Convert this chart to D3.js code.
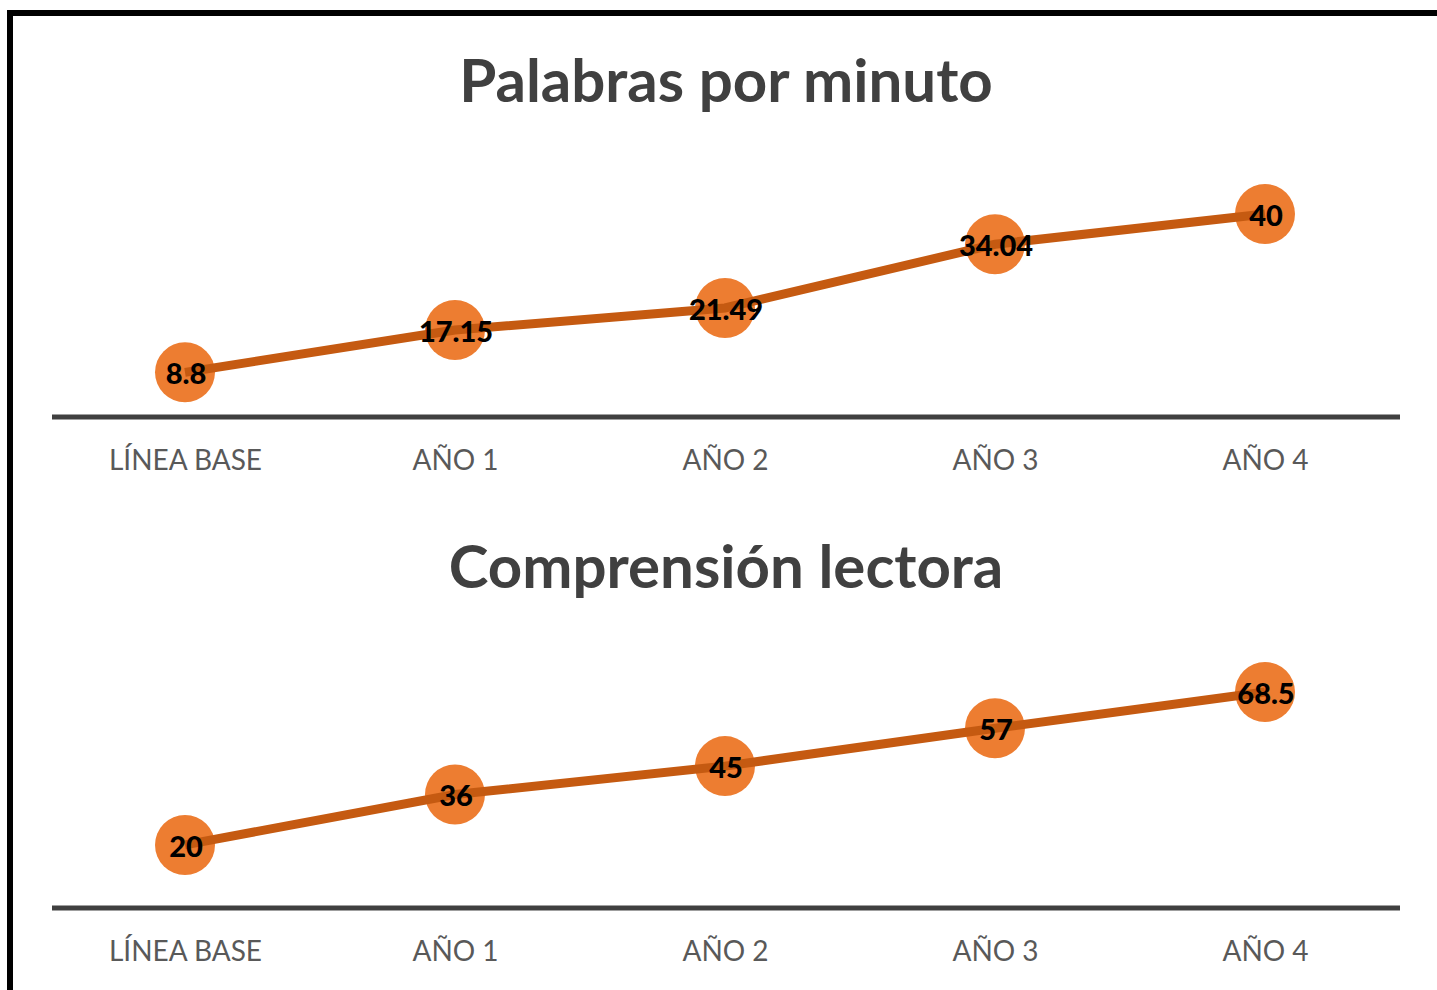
<!DOCTYPE html>
<html>
<head>
<meta charset="utf-8">
<script src="https://cdn.jsdelivr.net/npm/d3@7"></script>
<style>
  body { margin: 0; background: #fff; overflow: hidden; }
  svg { display: block; }
</style>
</head>
<body>
<div id="chart"></div>
<script>
// data
const categories = ['LÍNEA BASE', 'AÑO 1', 'AÑO 2', 'AÑO 3', 'AÑO 4'];
const palabras = [8.8, 17.15, 21.49, 34.04, 40];
const comprension = [20, 36, 45, 57, 68.5];
const palabrasLabels = ['8.8', '17.15', '21.49', '34.04', '40'];
const comprensionLabels = ['20', '36', '45', '57', '68.5'];

const width = 1437, height = 990;
const font = 'Lato, "Open Sans", sans-serif';

const svg = d3.select('#chart').append('svg')
    .attr('width', width)
    .attr('height', height);

svg.append('rect')
    .attr('width', width).attr('height', height)
    .attr('fill', '#fff');

// outer frame (runs past right/bottom edge)
svg.append('rect')
    .attr('x', 10).attr('y', 13)
    .attr('width', width + 20).attr('height', height + 20)
    .attr('fill', 'none')
    .attr('stroke', '#000')
    .attr('stroke-width', 6);

const x = d3.scalePoint()
    .domain(categories)
    .range([185, 1265]);

function drawPanel(title, titleY, values, labels, axisY, yScale) {
    const g = svg.append('g');

    g.append('text')
        .attr('x', 726).attr('y', titleY)
        .attr('text-anchor', 'middle')
        .attr('font-family', font)
        .attr('font-weight', 'bold')
        .attr('font-size', 60)
        .attr('fill', '#404040')
        .text(title);

    // baseline axis
    const axis = d3.axisBottom(x).tickSize(0).tickPadding(33);
    const ax = g.append('g')
        .attr('transform', `translate(0,${axisY})`)
        .call(axis);
    ax.select('.domain').remove();
    ax.selectAll('text')
        .attr('font-family', font)
        .attr('font-size', 28)
        .attr('fill', '#595959');
    g.append('line')
        .attr('x1', 52).attr('x2', 1400)
        .attr('y1', axisY).attr('y2', axisY)
        .attr('stroke', '#404040')
        .attr('stroke-width', 5);

    const pts = values.map((v, i) => ({ c: categories[i], v: v, l: labels[i] }));

    g.selectAll('circle.pt')
        .data(pts)
        .enter().append('circle')
        .attr('class', 'pt')
        .attr('cx', d => x(d.c))
        .attr('cy', d => yScale(d.v))
        .attr('r', 30)
        .attr('fill', '#ED7D31');

    const line = d3.line()
        .x(d => x(d.c))
        .y(d => yScale(d.v));

    g.append('path')
        .datum(pts)
        .attr('d', line)
        .attr('fill', 'none')
        .attr('stroke', '#C55A11')
        .attr('stroke-width', 9);

    g.selectAll('text.lbl')
        .data(pts)
        .enter().append('text')
        .attr('class', 'lbl')
        .attr('x', d => x(d.c) + 1)
        .attr('y', d => yScale(d.v))
        .attr('dy', '0.4em')
        .attr('text-anchor', 'middle')
        .attr('font-family', font)
        .attr('font-weight', 900)
        .attr('font-size', 29)
        .attr('fill', '#000')
        .text(d => d.l);
}

const y1 = d3.scaleLinear().domain([0, 40]).range([417, 214]);
const y2 = d3.scaleLinear().domain([0, 68.5]).range([908, 692]);

drawPanel('Palabras por minuto', 102, palabras, palabrasLabels, 417, y1);
drawPanel('Comprensión lectora', 588, comprension, comprensionLabels, 908, y2);
</script>
</body>
</html>
